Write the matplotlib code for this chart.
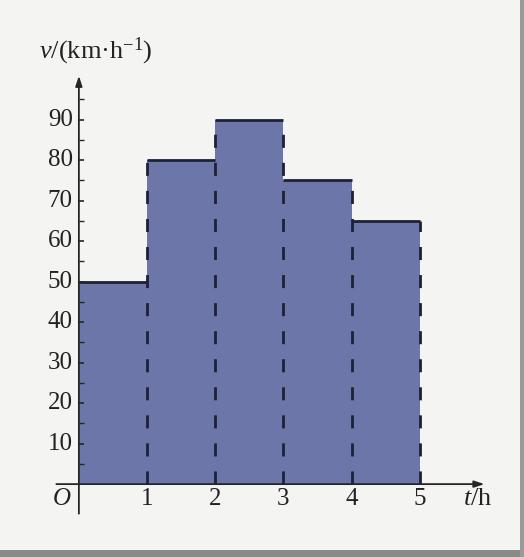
import matplotlib.pyplot as plt
import numpy as np
from matplotlib.patches import Rectangle

plt.rcParams.update(
    {
        "font.family": "Liberation Serif",
        "mathtext.fontset": "custom",
        "mathtext.rm": "Liberation Serif",
        "mathtext.it": "Liberation Serif:italic",
    }
)

# speed over each one-hour interval
hours = [0, 1, 2, 3, 4]
speeds = [50, 80, 90, 75, 65]
y_ticks = [10, 20, 30, 40, 50, 60, 70, 80, 90]
y_minor = [5, 15, 25, 35, 45, 55, 65, 75, 85, 95]
x_ticks = [1, 2, 3, 4, 5]

FILL = "#6C76A9"
INK = "#1C2038"
AXIS = "#262626"
BG = "#F4F4F2"

fig = plt.figure(figsize=(5.24, 5.57), dpi=100)
fig.patch.set_facecolor(BG)
ax = fig.add_axes([0.105, 0.0763, 0.826, 0.789])
ax.set_xlim(-0.35, 6.0)
ax.set_ylim(-7.5, 101)
ax.axis("off")

# bars, solid tops and dashed separators
ax.bar(hours, speeds, width=1.0, align="edge", color=FILL, linewidth=0, zorder=1)
for h, v in zip(hours, speeds):
    ax.plot([h, h + 1], [v, v], color=INK, lw=2.0, solid_capstyle="butt", zorder=3)
edges = np.array(hours[1:] + [hours[-1] + 1])
edge_tops = [max(a, b) for a, b in zip(speeds, speeds[1:])] + [speeds[-1]]
for x, top in zip(edges, edge_tops):
    ax.plot([x, x], [0, top], color=INK, lw=2.0, dashes=(4.7, 5.4), zorder=3)

# axes with arrow heads
ax.annotate("", xy=(5.95, 0), xytext=(-0.33, 0),
            arrowprops=dict(arrowstyle="-|>,head_length=0.6,head_width=0.2",
                            color=AXIS, lw=1.3, shrinkA=0, shrinkB=0), zorder=4)
ax.annotate("", xy=(0, 100.8), xytext=(0, -7.3),
            arrowprops=dict(arrowstyle="-|>,head_length=0.6,head_width=0.2",
                            color=AXIS, lw=1.3, shrinkA=0, shrinkB=0), zorder=4)

# y ticks
ax.hlines(y_ticks, 0, 0.08, color=AXIS, lw=1.2, zorder=4)
ax.hlines(y_minor, 0, 0.08, color=AXIS, lw=1.0, zorder=4)
for v in y_ticks:
    ax.text(-0.09, v, str(v), ha="right", va="center", fontsize=18, color="#222222")

for t in x_ticks:
    ax.text(t, -3.6, str(t), ha="center", va="center", fontsize=18, color="#222222")
ax.text(-0.25, -3.6, r"$O$", ha="center", va="center", fontsize=18, color="#222222")
ax.text(5.85, -3.6, r"$t$/h", ha="center", va="center", fontsize=19, color="#222222")
ax.text(-0.58, 106.8, r"$v$/(km·h$^{-1}$)", ha="left", va="center", fontsize=19,
        color="#222222", clip_on=False)

# scanned page frame
fig.patches.append(Rectangle((0, 0), 1, 0.013, transform=fig.transFigure,
                             facecolor="#8A8A88", edgecolor="none"))
fig.patches.append(Rectangle((0.992, 0), 0.008, 1, transform=fig.transFigure,
                             facecolor="#9A9A98", edgecolor="none"))

fig.savefig("out.png", dpi=100, facecolor=fig.get_facecolor())
